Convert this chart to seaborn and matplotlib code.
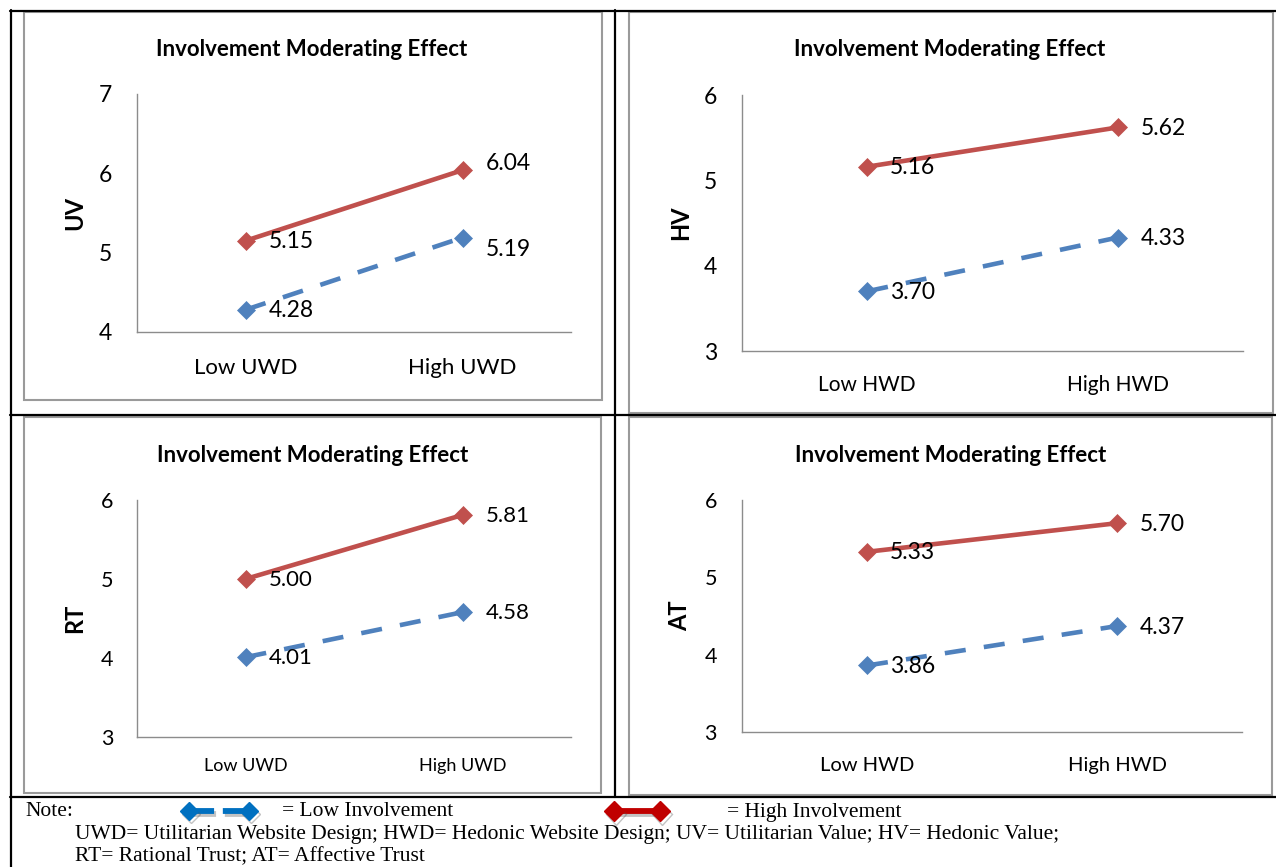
import matplotlib
matplotlib.use("Agg")
import matplotlib.pyplot as plt
import matplotlib.patheffects as pe
from matplotlib.lines import Line2D
from matplotlib.patches import Rectangle
import seaborn as sns

# ---- data -------------------------------------------------------------
uwd_levels = ["Low UWD", "High UWD"]
hwd_levels = ["Low HWD", "High HWD"]

uv_low = [4.28, 5.19]
uv_high = [5.15, 6.04]
hv_low = [3.70, 4.33]
hv_high = [5.16, 5.62]
rt_low = [4.01, 4.58]
rt_high = [5.00, 5.81]
at_low = [3.86, 4.37]
at_high = [5.33, 5.70]

uv_ticks = [4, 5, 6, 7]
other_ticks = [3, 4, 5, 6]

chart_title = "Involvement Moderating Effect"
note_lines = [
    "UWD= Utilitarian Website Design; HWD= Hedonic Website Design; UV= Utilitarian Value; HV= Hedonic Value;",
    "RT= Rational Trust; AT= Affective Trust",
]

# ---- styling ----------------------------------------------------------
sns.set_theme(style="white")
plt.rcParams["font.family"] = ["Lato", "DejaVu Sans"]

W, H = 1276, 867
RED = "#C0504D"
BLUE = "#4F81BD"
AXIS_GREY = "#8C8C8C"
BOX_GREY = "#9A9A9A"
SERIF = ["Liberation Serif", "DejaVu Serif"]

fig = plt.figure(figsize=(W / 100, H / 100), dpi=100)


def fx(x):
    return x / W


def fy(y):
    return 1 - y / H


def rect(x0, x1, ytop, ybot):
    return [fx(x0), fy(ybot), (x1 - x0) / W, (ybot - ytop) / H]


# table rules and chart-area frames
for xs, ys in [((10, 1276), (10.5, 10.5)), ((10.5, 10.5), (10, 867)),
               ((615, 615), (10, 797)), ((10, 1276), (415, 415)),
               ((10, 1276), (797, 797))]:
    fig.add_artist(Line2D([fx(v) for v in xs], [fy(v) for v in ys],
                          transform=fig.transFigure, color="black", lw=1.6))

for x0, x1, y0, y1 in [(24, 602, 12, 400), (629, 1273, 12, 413),
                       (24, 601, 417, 793), (629, 1272, 417, 795)]:
    fig.add_artist(Rectangle((fx(x0), fy(y1)), (x1 - x0) / W, (y1 - y0) / H,
                             transform=fig.transFigure, fill=False,
                             edgecolor=BOX_GREY, lw=1.5))

panels = [
    dict(cats=uwd_levels, low=uv_low, high=uv_high, ylabel="UV", ticks=uv_ticks,
         box=(137, 571, 94, 332), title_xy=(312, 49), ylabel_x=75,
         tick_fs=16.5, cat_fs=16, val_fs=16.5, xpad=19, ypad=18,
         nudge_end=(-11, 8)),
    dict(cats=hwd_levels, low=hv_low, high=hv_high, ylabel="HV", ticks=other_ticks,
         box=(742, 1243, 95, 351), title_xy=(950, 49), ylabel_x=681,
         tick_fs=16.5, cat_fs=15, val_fs=16.5, xpad=17, ypad=18,
         nudge_end=(0, 0)),
    dict(cats=uwd_levels, low=rt_low, high=rt_high, ylabel="RT", ticks=other_ticks,
         box=(137, 571, 500, 737), title_xy=(313, 455), ylabel_x=75,
         tick_fs=15.5, cat_fs=13, val_fs=16, xpad=15, ypad=17,
         nudge_end=(0, 0)),
    dict(cats=hwd_levels, low=at_low, high=at_high, ylabel="AT", ticks=other_ticks,
         box=(742, 1242, 500, 732), title_xy=(951, 455), ylabel_x=680,
         tick_fs=15.5, cat_fs=14.5, val_fs=16.5, xpad=18, ypad=18,
         nudge_end=(0, 0)),
]

for p in panels:
    ax = fig.add_axes(rect(*p["box"]))
    sns.lineplot(x=p["cats"], y=p["low"], ax=ax, sort=False, color=BLUE,
                 linewidth=3.3, linestyle=(0, (4.6, 4.0)), marker="D",
                 markersize=9, markeredgecolor=BLUE, markeredgewidth=0.5)
    sns.lineplot(x=p["cats"], y=p["high"], ax=ax, sort=False, color=RED,
                 linewidth=3.3, marker="D", markersize=9,
                 markeredgecolor=RED, markeredgewidth=0.5)

    # value labels to the right of each point
    ends = {"low": p["nudge_end"][0], "high": p["nudge_end"][1]}
    for key in ("low", "high"):
        for i, v in enumerate(p[key]):
            dy = ends[key] if i == 1 else 0
            ax.annotate(f"{v:.2f}", xy=(i, v), xytext=(23, dy - 1),
                        textcoords="offset pixels", ha="left", va="center",
                        fontsize=p["val_fs"], color="black")

    ax.set_xlim(-0.5, 1.5)
    ax.set_ylim(p["ticks"][0], p["ticks"][-1])
    ax.set_yticks(p["ticks"])
    ax.set_yticklabels([str(t) for t in p["ticks"]])
    ax.tick_params(axis="y", length=0, pad=p["ypad"], labelsize=p["tick_fs"],
                   labelcolor="black")
    ax.tick_params(axis="x", length=0, pad=p["xpad"], labelsize=p["cat_fs"],
                   labelcolor="black")
    for side in ("top", "right"):
        ax.spines[side].set_visible(False)
    for side in ("left", "bottom"):
        ax.spines[side].set_color(AXIS_GREY)
        ax.spines[side].set_linewidth(1.0)
    ax.set_facecolor("none")
    ax.grid(False)

    x0, x1, yt, yb = p["box"]
    ax.set_ylabel(p["ylabel"], fontsize=17, fontweight="bold", color="black",
                  va="center", ha="center")
    ax.yaxis.set_label_coords((p["ylabel_x"] - x0) / (x1 - x0), 0.5)
    ax.set_xlabel("")

    tx, ty = p["title_xy"]
    fig.text(fx(tx), fy(ty), chart_title, ha="center", va="center",
             fontsize=16, fontweight="bold", color="black")

# ---- note row with legend keys ----------------------------------------
shadow = [pe.SimpleLineShadow(offset=(1.5, -2.5), shadow_color="#555555", alpha=0.35),
          pe.Normal()]
fig.add_artist(Line2D([fx(189), fx(249)], [fy(811), fy(811)],
                      transform=fig.transFigure, color="#0070C0", lw=4.2,
                      dashes=(4.3, 1.5), marker="D", markersize=9,
                      markeredgecolor="#0070C0", path_effects=shadow))
fig.add_artist(Line2D([fx(614), fx(660)], [fy(811), fy(811)],
                      transform=fig.transFigure, color="#C00000", lw=4.2,
                      marker="D", markersize=10.5,
                      markeredgecolor="#C00000", path_effects=shadow))

NOTE_FS = 15.5
fig.text(fx(25), fy(812), "Note:", ha="left", va="center", fontsize=NOTE_FS,
         family=SERIF, color="black")
fig.text(fx(282), fy(812), "= Low Involvement", ha="left", va="center",
         fontsize=NOTE_FS, family=SERIF, color="black")
fig.text(fx(727), fy(812), "= High Involvement", ha="left", va="center",
         fontsize=NOTE_FS, family=SERIF, color="black")
fig.text(fx(75), fy(835), note_lines[0], ha="left", va="center",
         fontsize=NOTE_FS, family=SERIF, color="black")
fig.text(fx(75), fy(857), note_lines[1], ha="left", va="center",
         fontsize=NOTE_FS, family=SERIF, color="black")

fig.savefig("out.png", dpi=100, facecolor="white")
